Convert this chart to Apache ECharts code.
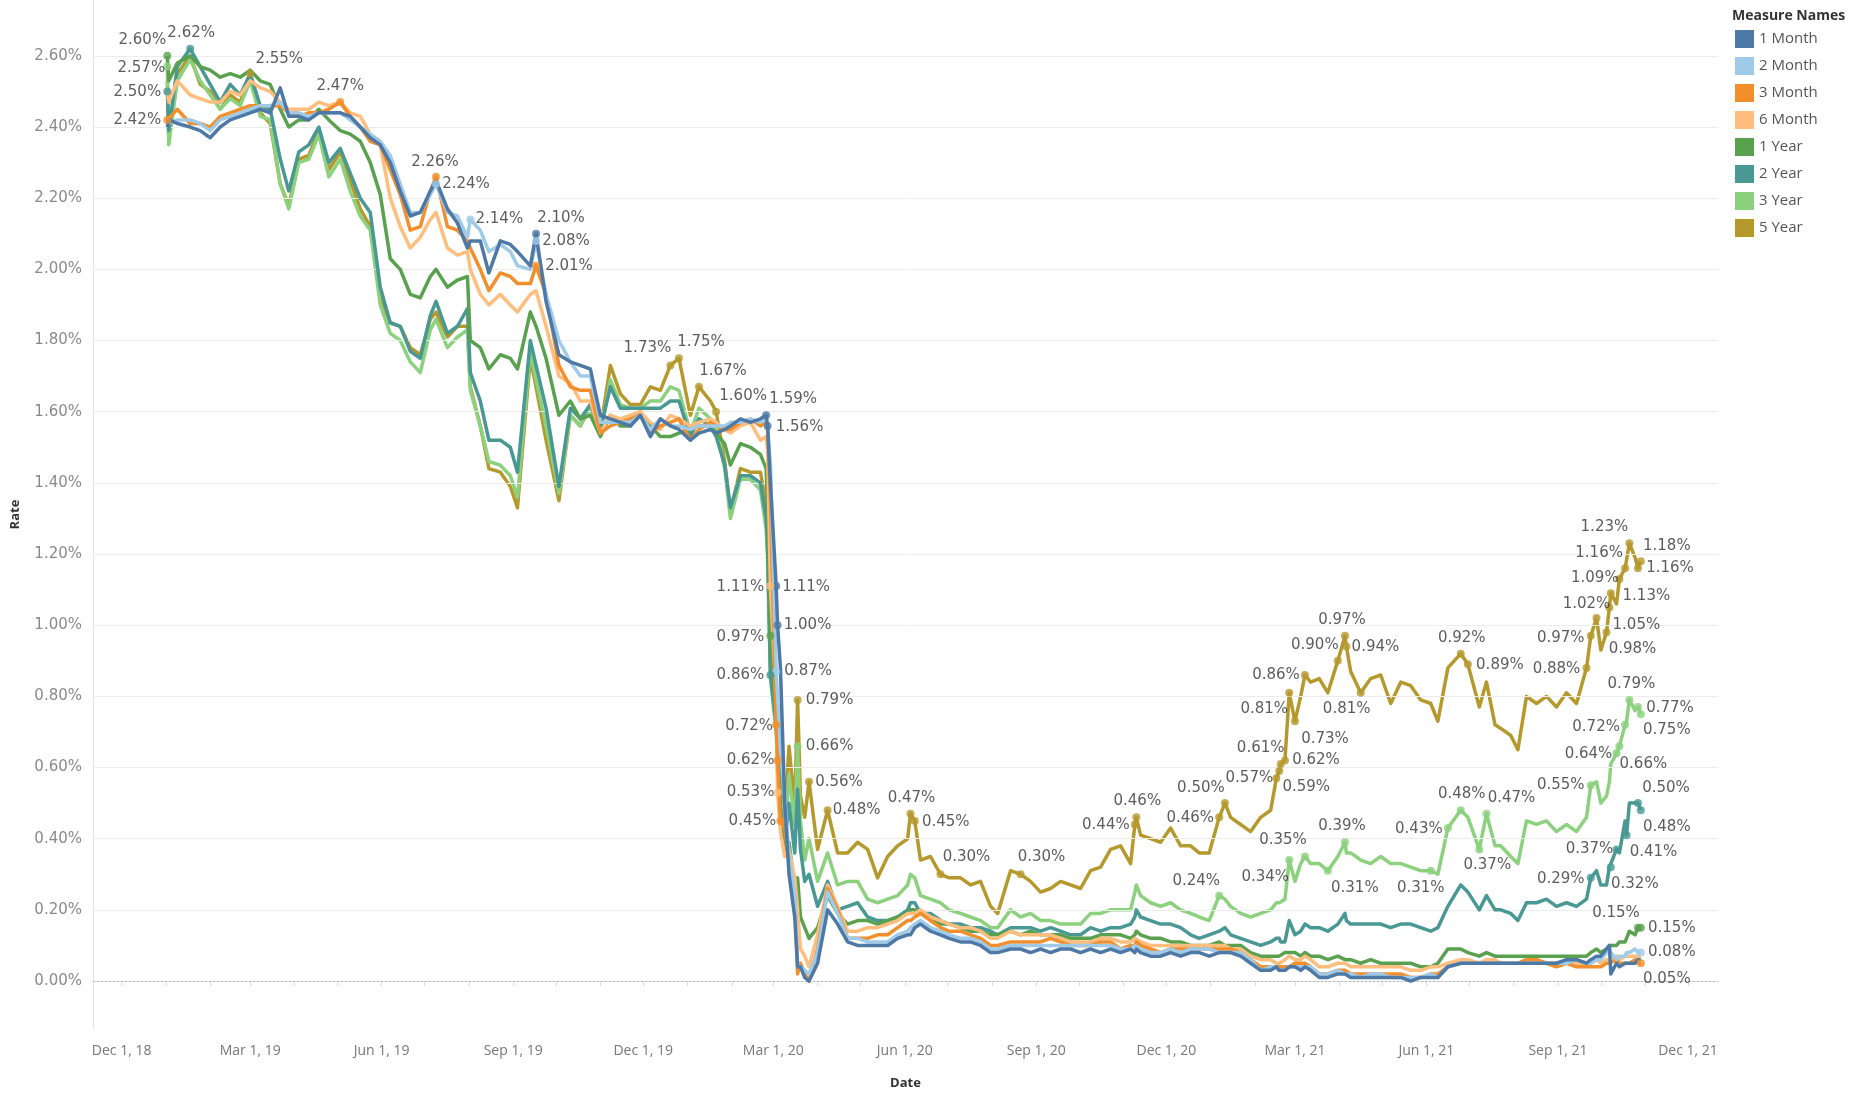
<!DOCTYPE html>
<html>
<head>
<meta charset="utf-8">
<title>Treasury Rates</title>
<script src="https://cdn.jsdelivr.net/npm/echarts@6.0.0/dist/echarts.min.js"></script>
<style>
  html, body { margin: 0; padding: 0; background: #fff; }
  #chart { width: 1873px; height: 1095px; }
</style>
</head>
<body>
<div id="chart"></div>
<script>
// observation dates (one line per month)
const dates = [
  '2019-01-02','2019-01-03','2019-01-09','2019-01-18','2019-01-25',
  '2019-02-01','2019-02-08','2019-02-15','2019-02-22',
  '2019-03-01','2019-03-08','2019-03-15','2019-03-22','2019-03-28',
  '2019-04-04','2019-04-11','2019-04-18','2019-04-25',
  '2019-05-03','2019-05-10','2019-05-17','2019-05-24','2019-05-31',
  '2019-06-07','2019-06-14','2019-06-21','2019-06-28',
  '2019-07-05','2019-07-09','2019-07-17','2019-07-24','2019-07-31',
  '2019-08-02','2019-08-09','2019-08-15','2019-08-23','2019-08-30',
  '2019-09-04','2019-09-13','2019-09-17','2019-09-24',
  '2019-10-03','2019-10-11','2019-10-18','2019-10-25',
  '2019-11-01','2019-11-08','2019-11-15','2019-11-22','2019-11-29',
  '2019-12-06','2019-12-13','2019-12-20','2019-12-26',
  '2020-01-03','2020-01-09','2020-01-17','2020-01-21','2020-01-27','2020-01-31',
  '2020-02-07','2020-02-14','2020-02-21','2020-02-25','2020-02-26','2020-02-28',
  '2020-03-03','2020-03-04','2020-03-06','2020-03-09','2020-03-12','2020-03-16','2020-03-18','2020-03-20','2020-03-23','2020-03-26',
  '2020-04-01','2020-04-08','2020-04-15','2020-04-22','2020-04-29',
  '2020-05-06','2020-05-13','2020-05-20','2020-05-27',
  '2020-06-03','2020-06-05','2020-06-08','2020-06-12','2020-06-19','2020-06-26',
  '2020-07-02','2020-07-10','2020-07-17','2020-07-24','2020-07-31',
  '2020-08-05','2020-08-14','2020-08-21','2020-08-28',
  '2020-09-04','2020-09-11','2020-09-18','2020-09-25',
  '2020-10-02','2020-10-09','2020-10-16','2020-10-23','2020-10-30',
  '2020-11-06','2020-11-09','2020-11-10','2020-11-13','2020-11-20','2020-11-27',
  '2020-12-04','2020-12-11','2020-12-18','2020-12-24','2020-12-31',
  '2021-01-07','2021-01-11','2021-01-15','2021-01-22','2021-01-29',
  '2021-02-05','2021-02-12','2021-02-16','2021-02-18','2021-02-19','2021-02-22','2021-02-25',
  '2021-03-01','2021-03-05','2021-03-08','2021-03-12','2021-03-18','2021-03-24','2021-03-31',
  '2021-04-05','2021-04-06','2021-04-09','2021-04-16','2021-04-23','2021-04-30',
  '2021-05-07','2021-05-14','2021-05-21','2021-05-28',
  '2021-06-04','2021-06-09','2021-06-16','2021-06-25','2021-06-30',
  '2021-07-08','2021-07-13','2021-07-19','2021-07-23','2021-07-30',
  '2021-08-04','2021-08-10','2021-08-17','2021-08-24','2021-08-31',
  '2021-09-07','2021-09-14','2021-09-21','2021-09-24','2021-09-28',
  '2021-10-01','2021-10-05','2021-10-07','2021-10-08','2021-10-12','2021-10-14','2021-10-18','2021-10-19','2021-10-21','2021-10-25','2021-10-27','2021-10-29'
];

const m1 = [
  2.40,2.42,2.41,2.40,2.39,
  2.37,2.40,2.42,2.43,
  2.44,2.45,2.44,2.51,2.43,
  2.43,2.42,2.44,2.44,
  2.44,2.43,2.40,2.37,2.35,
  2.30,2.22,2.15,2.16,
  2.22,2.25,2.17,2.13,2.06,
  2.08,2.08,1.99,2.08,2.07,
  2.05,2.01,2.10,1.91,
  1.76,1.74,1.73,1.72,
  1.59,1.58,1.57,1.56,1.59,
  1.53,1.58,1.56,1.55,
  1.52,1.54,1.55,1.54,1.55,1.56,
  1.58,1.57,1.58,1.59,1.56,1.40,
  1.11,1.00,0.88,0.50,0.30,0.18,0.04,0.04,0.01,0.00,
  0.05,0.20,0.16,0.11,0.10,
  0.10,0.10,0.10,0.12,
  0.13,0.13,0.15,0.16,0.14,0.13,
  0.12,0.11,0.11,0.10,0.08,
  0.08,0.09,0.09,0.08,
  0.09,0.08,0.09,0.09,
  0.08,0.09,0.08,0.09,0.08,
  0.09,0.08,0.09,0.08,0.07,0.07,
  0.08,0.07,0.08,0.08,0.07,
  0.08,0.08,0.08,0.07,0.05,
  0.03,0.03,0.04,0.03,0.03,0.03,0.04,
  0.04,0.03,0.04,0.03,0.01,0.01,0.02,
  0.02,0.02,0.01,0.01,0.01,0.01,
  0.01,0.01,0.00,0.01,
  0.01,0.01,0.04,0.05,0.05,
  0.05,0.05,0.05,0.05,0.05,
  0.05,0.05,0.05,0.05,0.05,
  0.06,0.06,0.05,0.06,0.07,
  0.07,0.09,0.10,0.02,0.05,0.04,0.05,0.05,0.05,0.05,0.06,0.06
];

const m2 = [
  2.41,2.41,2.42,2.42,2.41,
  2.39,2.42,2.43,2.44,
  2.45,2.46,2.46,2.47,2.44,
  2.44,2.43,2.44,2.44,
  2.44,2.42,2.40,2.38,2.36,
  2.32,2.24,2.16,2.16,
  2.21,2.24,2.16,2.15,2.09,
  2.14,2.11,2.05,2.07,2.05,
  2.01,2.00,2.08,1.93,
  1.80,1.74,1.70,1.70,
  1.57,1.57,1.57,1.57,1.59,
  1.55,1.58,1.56,1.56,
  1.55,1.56,1.56,1.56,1.56,1.57,
  1.57,1.58,1.57,1.58,1.56,1.45,
  0.87,0.80,0.65,0.52,0.35,0.24,0.05,0.04,0.03,0.02,
  0.08,0.25,0.19,0.12,0.12,
  0.11,0.11,0.11,0.13,
  0.14,0.15,0.16,0.17,0.15,0.14,
  0.13,0.12,0.12,0.11,0.09,
  0.09,0.10,0.10,0.10,
  0.10,0.10,0.10,0.10,
  0.10,0.10,0.10,0.10,0.09,
  0.09,0.10,0.10,0.09,0.08,0.08,
  0.09,0.08,0.09,0.09,0.09,
  0.08,0.08,0.08,0.08,0.06,
  0.03,0.04,0.04,0.03,0.03,0.03,0.04,
  0.04,0.04,0.04,0.04,0.02,0.02,0.03,
  0.02,0.02,0.02,0.01,0.02,0.02,
  0.01,0.01,0.01,0.01,
  0.02,0.01,0.04,0.05,0.05,
  0.05,0.05,0.05,0.05,0.05,
  0.05,0.05,0.05,0.05,0.05,
  0.05,0.06,0.05,0.05,0.06,
  0.06,0.08,0.09,0.08,0.06,0.07,0.07,0.08,0.08,0.09,0.08,0.08
];

const m3 = [
  2.42,2.42,2.45,2.41,2.41,
  2.40,2.43,2.44,2.45,
  2.46,2.46,2.46,2.46,2.44,
  2.43,2.44,2.44,2.45,
  2.47,2.43,2.40,2.36,2.35,
  2.28,2.21,2.11,2.12,
  2.22,2.26,2.12,2.11,2.08,
  2.06,2.00,1.94,1.99,1.98,
  1.96,1.96,2.01,1.93,
  1.73,1.67,1.66,1.66,
  1.54,1.56,1.57,1.58,1.59,
  1.54,1.56,1.57,1.58,
  1.52,1.55,1.57,1.56,1.55,1.55,
  1.57,1.58,1.56,1.57,1.55,1.35,
  0.72,0.62,0.45,0.43,0.33,0.24,0.02,0.05,0.02,0.00,
  0.09,0.26,0.20,0.12,0.12,
  0.12,0.13,0.13,0.15,
  0.17,0.17,0.18,0.19,0.17,0.15,
  0.14,0.14,0.13,0.12,0.10,
  0.10,0.11,0.11,0.11,
  0.11,0.12,0.11,0.10,
  0.10,0.10,0.11,0.11,0.09,
  0.10,0.10,0.11,0.10,0.09,0.08,
  0.09,0.09,0.09,0.09,0.09,
  0.09,0.09,0.09,0.08,0.06,
  0.04,0.04,0.04,0.04,0.04,0.04,0.04,
  0.05,0.05,0.05,0.04,0.02,0.02,0.03,
  0.03,0.03,0.02,0.02,0.02,0.02,
  0.02,0.02,0.01,0.01,
  0.02,0.02,0.04,0.05,0.05,
  0.05,0.05,0.05,0.05,0.05,
  0.05,0.06,0.06,0.05,0.04,
  0.05,0.04,0.04,0.04,0.04,
  0.04,0.05,0.05,0.05,0.06,0.05,0.05,0.05,0.05,0.06,0.05,0.05
];

const m6 = [
  2.50,2.47,2.53,2.49,2.48,
  2.47,2.47,2.50,2.49,
  2.53,2.51,2.50,2.47,2.45,
  2.45,2.45,2.47,2.46,
  2.47,2.44,2.43,2.38,2.35,
  2.20,2.12,2.06,2.09,
  2.14,2.16,2.06,2.04,2.05,
  2.00,1.93,1.90,1.93,1.90,
  1.88,1.93,1.94,1.84,
  1.70,1.68,1.63,1.63,
  1.54,1.59,1.58,1.59,1.60,
  1.57,1.55,1.59,1.58,
  1.56,1.57,1.58,1.57,1.55,1.54,
  1.56,1.57,1.52,1.53,1.49,1.11,
  0.79,0.53,0.42,0.35,0.37,0.29,0.20,0.09,0.07,0.04,
  0.13,0.27,0.21,0.14,0.14,
  0.15,0.15,0.16,0.17,
  0.19,0.19,0.19,0.20,0.18,0.17,
  0.16,0.15,0.15,0.14,0.12,
  0.12,0.14,0.13,0.13,
  0.13,0.13,0.12,0.11,
  0.11,0.11,0.12,0.12,0.11,
  0.11,0.12,0.12,0.11,0.10,0.10,
  0.10,0.10,0.10,0.10,0.10,
  0.10,0.10,0.09,0.09,0.07,
  0.06,0.06,0.05,0.05,0.05,0.06,0.07,
  0.06,0.06,0.07,0.06,0.04,0.04,0.05,
  0.05,0.05,0.04,0.04,0.04,0.04,
  0.04,0.04,0.03,0.03,
  0.04,0.04,0.05,0.06,0.06,
  0.05,0.06,0.06,0.05,0.05,
  0.05,0.06,0.06,0.05,0.05,
  0.05,0.05,0.05,0.05,0.06,
  0.05,0.06,0.06,0.06,0.07,0.06,0.07,0.07,0.07,0.07,0.07,0.07
];

const y1 = [
  2.60,2.53,2.58,2.60,2.57,
  2.56,2.54,2.55,2.54,
  2.56,2.53,2.52,2.45,2.40,
  2.42,2.42,2.45,2.42,
  2.39,2.38,2.36,2.30,2.21,
  2.03,2.00,1.93,1.92,
  1.98,2.00,1.95,1.97,1.98,
  1.80,1.78,1.72,1.76,1.75,
  1.72,1.88,1.84,1.75,
  1.59,1.63,1.58,1.59,
  1.53,1.59,1.56,1.56,1.60,
  1.56,1.53,1.53,1.54,
  1.55,1.56,1.56,1.54,1.51,1.45,
  1.51,1.50,1.48,1.44,1.33,0.97,
  0.73,0.59,0.45,0.36,0.39,0.26,0.29,0.18,0.15,0.12,
  0.15,0.24,0.19,0.16,0.17,
  0.17,0.16,0.17,0.18,
  0.19,0.20,0.20,0.19,0.18,0.16,
  0.16,0.15,0.14,0.14,0.13,
  0.13,0.14,0.13,0.14,
  0.13,0.13,0.13,0.12,
  0.12,0.12,0.13,0.13,0.13,
  0.12,0.13,0.14,0.13,0.12,0.12,
  0.11,0.11,0.10,0.10,0.10,
  0.11,0.10,0.10,0.10,0.08,
  0.07,0.07,0.07,0.07,0.07,0.08,0.08,
  0.08,0.07,0.08,0.07,0.07,0.06,0.07,
  0.06,0.06,0.06,0.05,0.06,0.05,
  0.05,0.05,0.05,0.04,
  0.04,0.05,0.09,0.09,0.08,
  0.07,0.08,0.07,0.07,0.07,
  0.07,0.07,0.07,0.07,0.07,
  0.07,0.07,0.07,0.08,0.09,
  0.08,0.09,0.10,0.10,0.10,0.11,0.11,0.12,0.14,0.13,0.15,0.15
];

const y2 = [
  2.50,2.39,2.57,2.62,2.57,
  2.52,2.47,2.52,2.49,
  2.55,2.46,2.45,2.31,2.22,
  2.33,2.35,2.40,2.30,
  2.34,2.27,2.20,2.16,1.95,
  1.85,1.84,1.77,1.75,
  1.87,1.91,1.82,1.84,1.89,
  1.71,1.63,1.52,1.52,1.50,
  1.43,1.80,1.73,1.61,
  1.39,1.61,1.58,1.62,
  1.55,1.67,1.61,1.61,1.61,
  1.61,1.61,1.63,1.63,
  1.53,1.58,1.56,1.53,1.45,1.33,
  1.42,1.42,1.40,1.30,1.22,0.86,
  0.72,0.68,0.49,0.38,0.50,0.36,0.54,0.37,0.28,0.30,
  0.21,0.28,0.20,0.21,0.22,
  0.18,0.17,0.17,0.18,
  0.20,0.22,0.22,0.19,0.19,0.17,
  0.16,0.16,0.15,0.15,0.14,
  0.13,0.15,0.15,0.15,
  0.14,0.15,0.14,0.13,
  0.13,0.15,0.14,0.15,0.15,
  0.16,0.18,0.20,0.18,0.17,0.16,
  0.16,0.15,0.13,0.12,0.13,
  0.14,0.15,0.13,0.12,0.11,
  0.10,0.11,0.12,0.12,0.11,0.11,0.17,
  0.13,0.14,0.16,0.15,0.15,0.14,0.16,
  0.19,0.17,0.16,0.16,0.16,0.16,
  0.15,0.16,0.16,0.15,
  0.14,0.15,0.21,0.27,0.25,
  0.20,0.24,0.20,0.20,0.19,
  0.17,0.22,0.22,0.23,0.21,
  0.22,0.21,0.23,0.29,0.31,
  0.27,0.27,0.32,0.32,0.37,0.36,0.45,0.41,0.50,0.50,0.50,0.48
];

const y3 = [
  2.57,2.35,2.53,2.59,2.53,
  2.49,2.45,2.48,2.46,
  2.53,2.43,2.42,2.24,2.17,
  2.30,2.31,2.38,2.26,
  2.31,2.22,2.15,2.11,1.90,
  1.82,1.80,1.74,1.71,
  1.83,1.86,1.78,1.81,1.83,
  1.66,1.56,1.46,1.45,1.42,
  1.36,1.77,1.69,1.56,
  1.37,1.59,1.56,1.61,
  1.54,1.69,1.62,1.61,1.61,
  1.63,1.63,1.67,1.66,
  1.54,1.61,1.58,1.56,1.44,1.30,
  1.41,1.41,1.38,1.27,1.18,0.85,
  0.70,0.68,0.52,0.40,0.58,0.44,0.66,0.45,0.34,0.40,
  0.28,0.36,0.27,0.28,0.28,
  0.23,0.22,0.23,0.24,
  0.27,0.30,0.29,0.24,0.23,0.22,
  0.20,0.19,0.18,0.17,0.15,
  0.15,0.20,0.18,0.19,
  0.17,0.17,0.16,0.16,
  0.16,0.19,0.19,0.20,0.20,
  0.20,0.25,0.27,0.24,0.22,0.21,
  0.22,0.20,0.19,0.18,0.17,
  0.24,0.23,0.21,0.19,0.18,
  0.19,0.20,0.22,0.22,0.22,0.23,0.34,
  0.28,0.33,0.35,0.33,0.33,0.31,0.35,
  0.39,0.36,0.36,0.34,0.33,0.35,
  0.33,0.33,0.32,0.31,
  0.31,0.30,0.43,0.48,0.46,
  0.37,0.47,0.38,0.38,0.35,
  0.33,0.45,0.44,0.45,0.42,
  0.44,0.42,0.46,0.55,0.56,
  0.50,0.52,0.56,0.61,0.64,0.66,0.72,0.73,0.79,0.76,0.77,0.75
];

const y5 = [
  2.53,2.37,2.55,2.60,2.52,
  2.50,2.45,2.49,2.47,
  2.55,2.44,2.41,2.24,2.18,
  2.31,2.32,2.39,2.28,
  2.33,2.25,2.17,2.12,1.92,
  1.85,1.84,1.78,1.76,
  1.86,1.88,1.81,1.84,1.84,
  1.67,1.56,1.44,1.43,1.39,
  1.33,1.75,1.67,1.52,
  1.35,1.59,1.56,1.62,
  1.55,1.73,1.65,1.62,1.62,
  1.67,1.66,1.73,1.75,
  1.59,1.67,1.63,1.60,1.46,1.32,
  1.44,1.43,1.43,1.34,1.25,0.89,
  0.72,0.74,0.58,0.46,0.66,0.49,0.79,0.52,0.46,0.56,
  0.37,0.48,0.36,0.36,0.39,
  0.37,0.29,0.35,0.38,
  0.40,0.47,0.45,0.34,0.35,0.30,
  0.29,0.29,0.27,0.28,0.21,
  0.19,0.31,0.30,0.28,
  0.25,0.26,0.28,0.27,
  0.26,0.31,0.32,0.37,0.38,
  0.33,0.44,0.46,0.41,0.40,0.39,
  0.43,0.38,0.38,0.36,0.36,
  0.46,0.50,0.46,0.44,0.42,
  0.46,0.48,0.57,0.59,0.61,0.62,0.81,
  0.73,0.80,0.86,0.84,0.85,0.81,0.90,
  0.97,0.94,0.87,0.81,0.85,0.86,
  0.78,0.84,0.83,0.79,
  0.78,0.73,0.88,0.92,0.89,
  0.77,0.84,0.72,0.71,0.69,
  0.65,0.80,0.78,0.80,0.77,
  0.81,0.78,0.88,0.97,1.02,
  0.93,0.98,1.05,1.09,1.06,1.13,1.16,1.16,1.23,1.19,1.16,1.18
];

// labelled marks: series, date, label offset x, offset y
const labelPoints = [
  ['y1','2019-01-02',-25,-16], ['y2','2019-01-18',1,-16], ['y3','2019-01-02',-26,2],
  ['y2','2019-01-02',-30,1], ['m3','2019-01-02',-30,0], ['y5','2019-03-01',29,-15],
  ['m3','2019-05-03',0,-16], ['m3','2019-07-09',-1,-15], ['m2','2019-07-09',30,0],
  ['m2','2019-08-02',29,0], ['m1','2019-09-17',25,-16], ['m2','2019-09-17',30,0],
  ['m3','2019-09-17',33,0], ['y5','2019-12-20',-23,-17], ['y5','2019-12-26',22,-16],
  ['y5','2020-01-09',24,-16], ['y5','2020-01-21',27,-16], ['m1','2020-02-25',27,-16],
  ['m1','2020-02-26',32,1], ['m6','2020-02-28',-30,1], ['y1','2020-02-28',-30,1],
  ['y2','2020-02-28',-30,0], ['m1','2020-03-03',30,1], ['m2','2020-03-03',32,0],
  ['m3','2020-03-03',-27,1], ['m1','2020-03-04',30,0], ['m3','2020-03-04',-27,0],
  ['m6','2020-03-04',-27,0], ['m3','2020-03-06',-28,0], ['y5','2020-03-18',32,0],
  ['y3','2020-03-18',32,0], ['y5','2020-03-26',30,0], ['y5','2020-04-08',29,0],
  ['y5','2020-06-05',1,-16], ['y5','2020-06-08',31,1], ['y5','2020-06-26',26,-17],
  ['y5','2020-08-21',21,-17], ['y5','2020-11-09',-29,1], ['y5','2020-11-10',1,-16],
  ['y5','2021-01-07',-29,1], ['y3','2021-01-07',-23,-15], ['y5','2021-01-11',-24,-15],
  ['y5','2021-02-16',-27,0], ['y5','2021-02-18',27,16], ['y5','2021-02-19',-20,-16],
  ['y5','2021-02-22',31,0], ['y5','2021-02-25',-25,16], ['y3','2021-02-25',-24,17],
  ['y5','2021-03-01',30,18], ['y5','2021-03-08',-29,0], ['y3','2021-03-08',-22,-16],
  ['y3','2021-03-24',27,17], ['y5','2021-03-31',-23,-16], ['y5','2021-04-05',-3,-16],
  ['y3','2021-04-05',-3,-16], ['y5','2021-04-06',29,1], ['y5','2021-04-16',-14,16],
  ['y3','2021-06-04',-10,17], ['y3','2021-06-16',-29,1], ['y3','2021-06-25',1,-16],
  ['y5','2021-06-25',1,-16], ['y5','2021-06-30',32,1], ['y3','2021-07-08',8,16],
  ['y3','2021-07-13',25,-16], ['y5','2021-09-21',-30,1], ['y5','2021-09-24',-30,2],
  ['y3','2021-09-24',-30,0], ['y2','2021-09-24',-30,1], ['y5','2021-09-28',-10,-14],
  ['y5','2021-10-05',26,17], ['y5','2021-10-07',27,18], ['y5','2021-10-08',-16,-15],
  ['y2','2021-10-08',24,17], ['y3','2021-10-12',-28,1], ['y2','2021-10-12',-27,0],
  ['y5','2021-10-14',27,17], ['y3','2021-10-14',24,18], ['y5','2021-10-18',-26,-15],
  ['y3','2021-10-18',-29,2], ['y2','2021-10-19',27,17], ['y5','2021-10-21',-25,-16],
  ['y3','2021-10-21',2,-16], ['y5','2021-10-27',32,0], ['y3','2021-10-27',32,1],
  ['y2','2021-10-27',28,-15], ['y1','2021-10-27',-22,-15], ['y5','2021-10-29',26,-15],
  ['y3','2021-10-29',26,16], ['y2','2021-10-29',26,17], ['y1','2021-10-29',31,0],
  ['m2','2021-10-29',31,0], ['m3','2021-10-29',26,16]
];

const tickDates = ['2018-12-01','2019-03-01','2019-06-01','2019-09-01','2019-12-01','2020-03-01',
  '2020-06-01','2020-09-01','2020-12-01','2021-03-01','2021-06-01','2021-09-01','2021-12-01'];
const tickLabels = ['Dec 1, 18','Mar 1, 19','Jun 1, 19','Sep 1, 19','Dec 1, 19','Mar 1, 20',
  'Jun 1, 20','Sep 1, 20','Dec 1, 20','Mar 1, 21','Jun 1, 21','Sep 1, 21','Dec 1, 21'];
const rateTicks = [0, 0.2, 0.4, 0.6, 0.8, 1.0, 1.2, 1.4, 1.6, 1.8, 2.0, 2.2, 2.4, 2.6];

const FONT = '"Open Sans", "Noto Sans", sans-serif';
const WIDE = '"DejaVu Sans", "Noto Sans", sans-serif';
const ts = d => Date.parse(d + 'T00:00:00Z');

const seriesDefs = [
  { key: 'm1', name: '1 Month', color: '#4e79a7', data: m1 },
  { key: 'm2', name: '2 Month', color: '#a0cbe8', data: m2 },
  { key: 'm3', name: '3 Month', color: '#f28e2b', data: m3 },
  { key: 'm6', name: '6 Month', color: '#ffbe7d', data: m6 },
  { key: 'y1', name: '1 Year', color: '#59a14f', data: y1 },
  { key: 'y2', name: '2 Year', color: '#499894', data: y2 },
  { key: 'y3', name: '3 Year', color: '#8cd17d', data: y3 },
  { key: 'y5', name: '5 Year', color: '#b6992d', data: y5 }
];

// monthly tick marks on the date axis
const monthTicks = [];
for (let y = 2018, m = 11; !(y === 2021 && m > 11) && y < 2022; ) {
  monthTicks.push(Date.UTC(y, m, 1));
  m++; if (m > 11) { m = 0; y++; }
}
const tickText = {};
tickDates.forEach((d, i) => { tickText[ts(d)] = tickLabels[i]; });

// lines: 5 Year at the bottom, 1 Month on top
const lineSeries = seriesDefs.slice().reverse().map((s, i) => ({
  type: 'line',
  name: s.name,
  data: dates.map((d, j) => [ts(d), s.data[j]]),
  showSymbol: false,
  symbol: 'none',
  z: 3 + i,
  lineStyle: { width: 3.5, color: s.color, join: 'round' },
  itemStyle: { color: s.color },
  emphasis: { disabled: true },
  animation: false
}));

const dotSeries = seriesDefs.map(s => ({
  type: 'scatter',
  name: s.name,
  z: 20,
  symbolSize: 8,
  itemStyle: { color: s.color },
  label: {
    show: true,
    position: 'inside',
    formatter: p => p.value[1].toFixed(2) + '%',
    color: '#333',
    fontSize: 15,
    fontFamily: WIDE
  },
  data: labelPoints.filter(l => l[0] === s.key).map(l => {
    const j = dates.indexOf(l[1]);
    return { value: [ts(l[1]), s.data[j]], label: { offset: [l[2], l[3]] } };
  }),
  emphasis: { disabled: true },
  animation: false
}));

const gridSeries = {
  type: 'line',
  name: 'grid',
  data: [],
  z: 1,
  silent: true,
  markLine: {
    silent: true,
    symbol: 'none',
    animation: false,
    label: { show: false },
    data: rateTicks.map(v => ({
      yAxis: v,
      lineStyle: v === 0
        ? { color: '#b8b8b8', type: [2, 2], width: 1 }
        : { color: '#ececec', type: 'solid', width: 1 }
    }))
  }
};

const chart = echarts.init(document.getElementById('chart'));
chart.setOption({
  backgroundColor: '#fff',
  animation: false,
  title: {
    text: 'Measure Names',
    left: 1727,
    top: 4,
    textStyle: { fontSize: 14, fontWeight: 'bold', color: '#333', fontFamily: FONT }
  },
  legend: {
    data: seriesDefs.map(s => s.name),
    orient: 'vertical',
    left: 1730,
    top: 25,
    icon: 'rect',
    itemWidth: 19,
    itemHeight: 18,
    itemGap: 9,
    selectedMode: false,
    textStyle: { color: '#555', fontSize: 15, fontFamily: FONT }
  },
  grid: { left: 93, right: 155, top: 0, bottom: 65, containLabel: false },
  xAxis: {
    type: 'value',
    min: ts('2018-11-11'),
    max: ts('2021-12-22'),
    name: 'Date',
    nameLocation: 'middle',
    nameGap: 48,
    nameTextStyle: { color: '#333', fontWeight: 'bold', fontSize: 13, fontFamily: FONT },
    axisLine: { show: true, lineStyle: { color: '#e3e3e3' } },
    axisTick: { show: true, customValues: monthTicks, length: 5, lineStyle: { color: '#dcdcdc' } },
    axisLabel: {
      customValues: tickDates.map(ts),
      formatter: v => tickText[v] || '',
      color: '#777',
      fontSize: 14,
      fontFamily: FONT,
      margin: 15
    },
    splitLine: { show: false }
  },
  yAxis: {
    type: 'value',
    min: -0.1348,
    max: 2.757,
    name: 'Rate',
    nameLocation: 'middle',
    nameGap: 71,
    nameTextStyle: { color: '#333', fontWeight: 'bold', fontSize: 13, fontFamily: FONT },
    axisLine: { show: true, lineStyle: { color: '#e3e3e3' } },
    axisTick: { show: false },
    axisLabel: {
      customValues: rateTicks,
      formatter: v => v.toFixed(2) + '%',
      color: '#8a8a8a',
      fontSize: 15,
      fontFamily: WIDE,
      margin: 11
    },
    splitLine: { show: false }
  },
  series: [gridSeries].concat(lineSeries, dotSeries)
});
</script>
</body>
</html>
